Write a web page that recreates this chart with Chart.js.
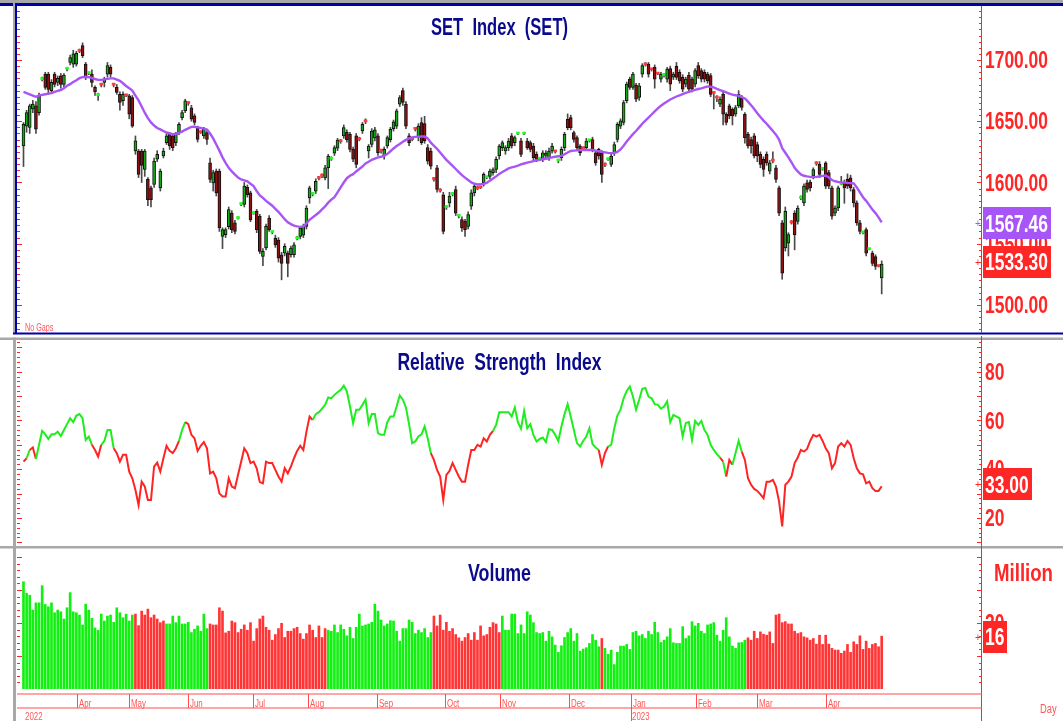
<!DOCTYPE html>
<html><head><meta charset="utf-8">
<script src="https://cdn.jsdelivr.net/npm/chart.js@4.4.0/dist/chart.umd.min.js"></script>
<style>
html,body{margin:0;padding:0;background:#fff;}
#wrap{position:relative;width:1063px;height:721px;overflow:hidden;background:#fff;}
canvas{position:absolute;left:0;}
</style></head><body>
<div id="wrap">
<canvas id="cPrice" width="1063" height="336" style="top:0px"></canvas>
<canvas id="cRsi" width="1063" height="210" style="top:336px"></canvas>
<canvas id="cVol" width="1063" height="175" style="top:546px"></canvas>
</div>
<script>
// ---------------- DATA ----------------
const priceOpen = [
1629.8,1646,1645,1660,1662.5,1657,1684,1688.5,1688.5,1675,
1688.5,1681.7,1687,1680,1692.5,1698,1696.7,1696.7,1707.5,1711.7,
1696.7,1689,1688.5,1677.6,1671,1680,1681.7,1688.5,1694,1680,
1677.6,1672,1666.7,1671,1670.8,1669.4,1625.7,1625.7,1625.7,1610.6,
1602.5,1595.6,1598.4,1619,1595.6,1621.6,1632.5,1639.3,1638,1632.5,
1640.7,1653,1658.5,1665,1661,1654.4,1644.8,1641,1638,1640.7,
1616,1599.7,1609.3,1609.3,1556,1557.4,1564,1575,1567,1570.5,
1582,1582,1596,1591.5,1574.5,1576.5,1572.4,1539.6,1546.5,1571,
1559.2,1554.6,1553,1541,1542.3,1542.3,1541,1541,1554,1556,
1557,1564.2,1587.4,1590.3,1593,1603.8,1605.6,1603.8,1612,1619,
1624,1628,1633.6,1638,1641,1639.3,1627,1638,1635.4,1642,
1650,1625.7,1631,1636.6,1638,1626,1621.6,1629.8,1635,1644,
1646,1664,1675,1664,1638,1635.4,1643.8,1636.6,1649,1648,
1628.4,1625.7,1603,1612,1593.5,1590,1579.5,1583.3,1590.3,1594.3,
1572.5,1569.7,1568.3,1564.2,1580.6,1591.5,1595.2,1596,1599.7,1604,
1605,1608,1610.6,1621.6,1628.4,1625.7,1628.4,1638,1632.5,1639.6,
1634,1639.6,1633.9,1632.5,1629.8,1623,1619,1619,1622,1620.2,
1625.7,1625.4,1617.6,1620.2,1628.4,1651.6,1653,1640.7,1636.6,1629.8,
1628,1628.4,1634,1635,1624.3,1627,1624.3,1614.6,1618.6,1614.8,
1624.3,1635.2,1646,1649,1666.7,1684.4,1677.6,1679.5,1669.4,1688.5,
1696.4,1696.7,1692.4,1694,1688.9,1684.4,1687.3,1684.4,1693,1686,
1694.8,1690,1685.8,1680.3,1687.7,1684.4,1680.3,1695.4,1691.3,1690,
1688.5,1687.2,1673.1,1669.3,1664,1672,1655.7,1662.6,1659.8,1655.7,
1662.6,1669.4,1655.7,1639.3,1635,1638,1631,1623,1619,1623,
1609.3,1617.9,1612,1595.6,1567,1546.5,1550.5,1567.4,1575,1568.3,
1587,1583.3,1599.7,1600.3,1605.2,1615.7,1614.8,1610.8,1616,1608,
1595.6,1575,1579.2,1598.6,1599.7,1602.5,1603.8,1594.3,1583.3,1567,
1558.9,1561.5,1545.2,1542.3,1539.6,1531.8,1522
];
const priceHigh = [
1649,1659,1664,1667,1666,1673,1686,1690,1690,1684,
1690,1687,1689,1689,1694,1704,1708,1707,1709,1714,
1698,1690,1692,1679,1673,1681,1686,1698,1696,1681,
1680,1674,1674,1672,1672,1671,1638,1627,1627,1627,
1604,1597,1620,1626,1611,1628,1640,1641,1640,1641,
1649,1659,1668,1666,1663,1656,1646,1642,1645,1642,
1620,1610,1611,1611,1563,1563,1580,1577,1569,1572,
1583,1600,1598,1593,1576,1578,1574,1546,1566,1573,
1560,1557,1555,1543,1550,1544,1548,1551,1556,1564,
1566,1581,1597,1592,1603,1605,1607,1614,1623,1621,
1630,1636,1635,1647,1643,1641,1629,1640,1637,1649,
1652,1631,1644,1645,1640,1627,1629,1638,1645,1651,
1660,1671,1677,1666,1640,1637,1645,1648,1653,1654,
1631,1628,1604,1614,1595,1592,1581,1592,1592,1597,
1574,1572,1570,1576,1594,1599,1597,1597,1608,1605,
1611,1612,1621,1631,1634,1630,1636,1640,1638,1641,
1636,1641,1636,1634,1632,1625,1620,1626,1626,1628,
1632,1626,1619,1629,1641,1656,1655,1642,1638,1631,
1629,1636,1635,1637,1626,1628,1626,1616,1620,1623,
1633,1649,1652,1667,1682,1686,1690,1681,1681,1697,
1698,1698,1693,1696,1690,1690,1689,1694,1695,1690,
1698,1692,1688,1686,1690,1686,1693,1698,1693,1692,
1690,1689,1674,1671,1670,1674,1657,1664,1661,1663,
1675,1671,1657,1641,1637,1640,1633,1625,1621,1625,
1618,1625,1614,1597,1569,1580,1559,1569,1577,1581,
1589,1599,1602,1602,1612,1617,1617,1612,1617,1610,
1597,1581,1597,1605,1602,1607,1606,1596,1585,1569,
1560,1563,1546,1544,1541,1532,1536
];
const priceLow = [
1613,1641,1640,1657,1640,1655,1683,1676,1672,1673,
1678,1679,1677,1678,1691,1696,1694,1695,1706,1702,
1684,1688,1678,1671,1667,1678,1678,1686,1686,1678,
1672,1659,1663,1670,1652,1645,1623,1604,1600,1605,
1581,1580,1596,1617,1593,1620,1631,1627,1626,1630,
1639,1651,1657,1663,1650,1647,1633,1640,1636,1631,
1600,1593,1589,1560,1546,1555,1562,1559,1558,1570,
1581,1580,1588,1568,1574,1559,1542,1532,1545,1560,
1558,1547,1535,1520.5,1540,1523,1539,1539,1553,1554,
1555,1562,1583,1589,1591,1602,1604,1602,1595,1618,
1622,1626,1632,1636,1633,1625,1617,1612,1634,1640,
1648,1620,1629,1634,1622,1624,1619,1628,1633,1642,
1644,1662,1663,1644,1630,1634,1642,1634,1631,1632,
1615,1611,1601,1592,1592,1558,1578,1580,1589,1573,
1571,1560,1556,1562,1578,1589,1594,1595,1597,1603,
1603,1606,1608,1619,1626,1623,1626,1628,1630,1639,
1621,1639,1627,1625,1618,1617,1618,1617,1620,1618,
1624,1624,1616,1618,1626,1643,1643,1633,1626,1622,
1626,1626,1633,1625,1614,1619,1600,1613,1618,1613,
1622,1633,1644,1647,1665,1676,1676,1666,1667,1686,
1695,1686,1691,1677,1688,1682,1686,1682,1675,1684,
1684,1681,1674,1678,1674,1674,1678,1685,1682,1682,
1681,1670,1660,1666,1662,1647,1647,1652,1647,1654,
1661,1659,1632,1628,1624,1620,1617,1612,1605,1614,
1607,1616,1600,1573,1521,1544,1540,1566,1545,1566,
1586,1581,1592,1593,1603,1614,1604,1610,1595,1595,
1570,1573,1577,1598,1583,1595,1593,1580,1565,1558,
1558,1540,1545,1532,1529,1531,1509
];
const priceClose = [
1647.5,1657,1662.5,1664,1643.5,1671,1684.5,1677.6,1676,1681.7,
1680,1685,1680,1687.7,1693,1702,1705,1705.5,1707,1703.5,
1685.8,1689.3,1681.7,1674,1671.3,1679.5,1684.4,1695.4,1688.5,1679.5,
1673.5,1665.3,1672,1670.8,1655.7,1646,1634,1606.6,1614,1625.7,
1586,1586,1617.5,1623,1609.3,1625.7,1638,1629.8,1628.4,1639.3,
1647.5,1657,1666.7,1664.5,1651.6,1649,1635.2,1640.7,1643.4,1635.2,
1602.5,1608,1591.5,1562.8,1561.5,1561.5,1577.9,1561.5,1560,1571,
1582.5,1597,1590,1569.7,1575,1561.5,1543.7,1543.7,1564.2,1561.5,
1559.6,1549,1538.2,1534,1547.8,1534,1546.5,1549,1554.6,1562.8,
1564,1579.2,1595.6,1590.7,1601,1603.3,1605.2,1612,1621.6,1619.4,
1628.4,1634.7,1633.3,1644.8,1635,1627,1619,1614.8,1635,1647.5,
1649.5,1629.8,1642,1642.9,1624.3,1625.7,1627,1636.6,1643.4,1649.5,
1658.5,1669.4,1665.3,1646,1632.5,1635,1643.4,1646,1632.5,1634,
1617.5,1613.4,1602.5,1594.3,1593,1560,1580,1588.8,1590.7,1575,
1573,1562.8,1561.5,1573.8,1591.5,1597,1594.8,1595.6,1606.6,1604.4,
1609.3,1610.6,1619,1629.8,1632.5,1628.4,1633.9,1629.8,1636.6,1640,
1623,1640,1628.4,1627,1620.2,1618.9,1619.4,1624.3,1624,1625.7,
1629.8,1625,1618,1627,1639.3,1644.8,1644.8,1635.2,1628.4,1624.3,
1627.6,1633.9,1634.4,1627,1616,1621.6,1606.6,1614.2,1619,1621.6,
1631,1647.5,1650.3,1665.3,1680.3,1677.6,1688.5,1668,1679,1695.4,
1696,1688.5,1692,1684.4,1688.5,1688.5,1687.7,1692.6,1680.3,1688.5,
1685.8,1683,1676.2,1684.4,1676.2,1676.2,1691.3,1687.2,1684.4,1684.4,
1683,1672,1672.7,1668.9,1668,1655.7,1649,1654.4,1654.4,1661.2,
1672,1661.2,1636.6,1629.8,1629.8,1621.6,1621.6,1614.8,1610.6,1616,
1616,1617.5,1602.5,1575,1526,1576.5,1557.4,1567,1557.4,1579.2,
1587.4,1597,1594.3,1595.6,1610.6,1615.3,1606.6,1611.2,1597,1597,
1572.4,1579.2,1595.6,1599,1595.6,1597,1595.6,1583.3,1567,1560.1,
1559.3,1542.3,1545.6,1534,1531.4,1531.4,1533.3
];
const maValues = [
1674,1673,1672,1671,1670,1671,1671.5,1672,1672.5,1673,
1674,1674.8,1675.5,1677,1679,1680.3,1682,1683.5,1685.2,1686,
1686.3,1686,1685.3,1684.5,1683.8,1683.8,1684.2,1684.6,1685,1685,
1684,1683,1681,1678.8,1677,1675,1671,1667,1662,1657,
1652.5,1649,1646.5,1644.5,1643.4,1642,1640.8,1640,1639.4,1639.8,
1640.5,1641.5,1643,1644.2,1645.4,1645.5,1645,1644.5,1644,1643.2,
1640,1636,1631,1626,1620.5,1616,1612,1609,1606.5,1604,
1602.5,1601.8,1601,1599,1597,1593,1589.5,1587.5,1585,1583,
1581,1578.5,1576,1573,1570,1567.5,1566,1564.8,1564.2,1563.8,
1564.2,1566.5,1569.5,1571.5,1573.5,1575.5,1578,1580.5,1583.5,1586,
1588,1592,1596,1600,1603.5,1605.5,1606.8,1609,1611,1613,
1615.5,1617,1618.5,1619.5,1620.5,1621,1622,1623.2,1625.5,1627.8,
1629.8,1631.5,1633.2,1634.8,1636,1636.8,1637.2,1637.4,1637.5,1637.5,
1636,1632.5,1630,1627.5,1624.5,1621.5,1618.5,1616,1613.5,1611,
1608.5,1606,1604,1602,1600,1599,1598.4,1598.5,1599,1599.7,
1601.5,1603.2,1605,1607,1608.5,1610,1611.5,1612.3,1613,1613.8,
1614.8,1615.5,1616.2,1616.8,1617.5,1618,1618.5,1619,1619.4,1620,
1620.5,1621,1621.4,1621.6,1623,1624.5,1625.7,1626,1626.2,1626.4,
1626.5,1626.5,1626.5,1626.5,1626,1625.5,1625,1624.6,1624.2,1624,
1624,1625,1627,1630,1633.5,1636.5,1639.5,1642,1645,1648,
1650.5,1653,1655.5,1658,1660.5,1662.6,1664.5,1666.2,1667.8,1669,
1670.2,1671.2,1672.2,1673.2,1674,1674.8,1675.6,1676.3,1676.8,1677.6,
1678.4,1678.2,1677.6,1676.5,1675.5,1674.5,1673.5,1672.5,1671.8,1671.2,
1670.8,1669.8,1668.6,1666,1663,1660,1656.5,1653.5,1650.5,1648,
1645,1642,1639,1635,1628,1624.3,1620.5,1616.5,1612,1609,
1606.6,1605.5,1605,1604.6,1604.4,1604.6,1605,1605.4,1605.7,1604,
1602,1601,1600.5,1600.2,1600,1599.7,1599.5,1599.3,1596,1592,
1588,1585,1581.5,1578,1575,1571.5,1567.46
];
const rsiValues = [
43.1,44.5,47.9,48.9,44.2,50,55.7,54.3,52.4,54.3,
54.3,55.4,53.6,56.1,58.5,60.9,59.3,62,62.6,60.9,
52,53.4,50,47.9,45.2,50,51.6,56.1,56.1,48.6,
46.6,43.1,45.9,45.9,39,36.3,31.5,25.3,34.9,32.9,
27.4,27.4,41.1,42.7,39,44.5,49.6,47.5,46.6,48.6,
51.6,56.1,59.3,58.5,54.1,52.7,47.5,49.6,51.1,48.6,
38.3,39,36.3,30.1,28.8,28.8,36.3,32.9,32.2,37.7,
43.1,48.6,46.6,42.5,43.1,40.4,34.7,34.2,43.1,42.5,
42.5,39.7,37,34.9,40.4,38.3,41.1,44.5,47.5,49.6,
47.9,55.4,61.6,60.2,62.6,63.4,64.8,66.4,69.4,69.1,
70.5,71.6,72.6,74.3,71.9,65.7,58.9,64.4,64.4,66.4,
68.5,58.9,62.6,62.6,54.8,54.1,54.1,59.3,61.6,61.6,
65.7,70.2,68.5,65.3,58.5,50.7,51.4,53.4,54.3,57.5,
52.7,46.6,43.8,39.7,37,27.4,37.7,39.3,42.5,39.7,
37,34.9,34.9,41.8,47.9,47.9,50,49.3,52.7,51.4,
54.1,55.7,58.2,63.4,63.4,63.4,63.4,61.6,65.3,59.3,
56.6,63.9,56.8,58.5,54.1,51.4,52.4,53,51.1,56.4,
56.1,54.1,51.6,57.5,62.6,66.7,61.6,56.1,50.7,49.3,
51.6,53.4,56.8,50.3,48.9,47.9,41.8,46.6,49.3,50,
56.8,62,64.4,69.1,72.1,73.9,69.8,64.4,68.5,73,
73.3,69.8,69.1,66.7,66.4,64.8,65.7,67.8,59.3,62.3,
61.6,60.9,53.4,58.9,59.3,52,59.8,58.2,59.8,56.1,
54.1,50,47.9,46.2,44.8,43.1,37,43.8,41.8,46.6,
51.6,47.2,43.8,36.3,33.6,31.9,31.1,29.7,28.1,34.9,
34.9,35.6,32.9,26.7,16.5,33.6,34.9,37,42.5,44.8,
47.9,47.2,48.3,51.6,54.1,53.4,54.1,51.6,48.6,46.6,
40.4,42.5,49.3,50.7,49.3,51.6,50,44.5,40.4,38.3,
37.9,34.2,34.9,32.2,31.1,31.1,33
];
const volumeValues = [
32.5,29,28.4,23.9,26.1,26.1,31.3,25.6,24.9,26.1,
23.1,23.9,23.4,21.2,24.6,29.2,23.4,23.1,22.4,19.4,
25.7,23.9,21.4,18.5,17.8,22.7,20.6,22.1,22.4,20.2,
24.6,23.1,21.6,22.7,20.6,22.4,22.7,19.2,23.6,22.4,
24.2,21.6,22.4,21.2,20.1,20.6,19.7,19.7,22.1,20.1,
22.1,19.7,19.7,20.2,17.1,18.1,19.1,17.5,22.7,18.3,
19.7,19.4,19.4,24.6,23.6,17,17.5,20.6,20.1,17.1,
18.1,19.4,17.8,20.1,14.5,18.3,21.2,22.1,18.7,17.8,
14.8,16.5,18.3,19.9,15.6,17.5,17.5,18.3,18.7,16.8,
15.1,16.8,19.4,17.8,15.6,19.1,15.6,18.3,17.8,17.5,
19.4,17.1,19.4,18.1,16.1,18.7,15.3,18.7,22.7,19.1,
19.4,19.7,20.2,25.7,23.6,20.9,19.1,19.7,20.7,20.6,
17.5,14.5,18.3,18.3,20.9,20.2,16.8,17.8,17.1,18.3,
15.6,17.1,22.1,19.1,22.4,17.8,20.2,17.5,18.3,16.5,
15.5,14.5,15.6,16.8,14.8,17.1,14.8,19.1,16.1,16.5,
18.7,20.1,19.7,17.1,22.1,17.8,17.8,22.7,22.7,16.8,
19.4,16.8,23.4,22.4,20.1,17.1,16.8,17.1,14.5,17.5,
15.8,13.3,11.1,13.1,15.6,17.1,18.3,14.5,16.8,11.5,
12.1,12.5,13.8,16.5,14.8,12.8,15.3,12.3,10.5,11.8,
7.4,11.1,13,13,13.5,12,17.1,17.5,16.1,16.5,
15.3,17.5,16.5,20.2,17.1,14.1,14.8,15.8,18.3,14,
13.8,13.8,18.9,15.3,16.1,20.4,19.1,19.9,17.5,16.8,
19.4,19.7,20.1,16.3,14.5,17.8,21.6,15.8,13,12.3,
14,14.1,14.8,15.5,14.8,17.5,15.3,17.3,16.6,16.3,
17.3,13.8,22.4,22.7,20.1,20.4,19.7,19.7,17.5,16.8,
17.1,15.8,15.5,14.8,15.3,13.6,16.3,13.5,16.3,13.6,
12.3,11.8,11.8,10.8,11.5,13.5,11.1,14.3,13.5,16.1,
12,14.5,12.3,13.5,13.8,12.8,16
];
const volumeUpRanges = [[0,35],[46,59],[98,131],[154,185],[187,232]];
const rsiUpRanges = [[1,2],[4,22],[25,29],[50,52],[93,131],[151,185],[188,224],[225,226],[228,231]];
const monthLabels = ['Apr','May','Jun','Jul','Aug','Sep','Oct','Nov','Dec','Jan','Feb','Mar','Apr'];
const monthPositions = [17.1,34,53,73.9,91.6,113.8,135.7,153.4,175.5,195.3,216.2,235.9,258];
const yearLabels = ['2022','2023'];
const yearPositions = [0.5,195.3];
const priceTicks = [1500,1550,1600,1650,1700];
const rsiTicks = [20,40,60,80];
const volumeTicks = [20];

// ---------------- STYLE HELPERS ----------------
const FONT = "'Liberation Sans', Arial, 'DejaVu Sans', sans-serif";
const AXIS_RED = '#FF2626';
const LIGHT_RED = '#FF5555';
const NAVY = '#0A0A8C';
const PANEL_NAVY = '#0000A8';
const PANEL_GRAY = '#A8A8A8';
const MA_PURPLE = '#A855F7';
const GREEN_BODY = '#17A817';
const RED_BODY = '#8E1010';
const DOJI_GREEN = '#22FF22';
const DOJI_RED = '#FF3B3B';
const RSI_GREEN = '#1EEE1E';
const RSI_RED = '#FF2424';
const VOL_GREEN = '#11F011';
const VOL_RED = '#FF3535';
const N = priceClose.length;
const X_MIN = -2.09, X_MAX = 308.26;
const CAP = 0.716;

function inRanges(ranges, a, b) {
  return ranges.some(r => a >= r[0] && b <= r[1]);
}
// draws text whose capital letters are vertically centred on y
function drawText(ctx, text, x, y, opt) {
  ctx.save();
  ctx.font = (opt.bold ? 'bold ' : '') + opt.size + 'px ' + FONT;
  const mw = ctx.measureText(text).width;
  const f = opt.width ? opt.width / mw : (opt.factor || 0.72);
  const w = mw * f;
  const x0 = opt.align === 'center' ? x - w / 2 : (opt.align === 'right' ? x - w : x);
  ctx.translate(x0, y + opt.size * CAP / 2);
  ctx.scale(f, 1);
  ctx.fillStyle = opt.color;
  ctx.textAlign = 'left';
  ctx.textBaseline = 'alphabetic';
  ctx.fillText(text, 0, 0);
  ctx.restore();
  return w;
}
function labelFactor(ctx) {
  ctx.save();
  ctx.font = 'bold 23px ' + FONT;
  const f = 63 / ctx.measureText('1700.00').width;
  ctx.restore();
  return f;
}
function axisTicks(ctx, scale, from, to, step, major, top, bottom) {
  ctx.save();
  ctx.strokeStyle = AXIS_RED; ctx.lineWidth = 1;
  ctx.beginPath();
  for (let v = from; v <= to + 1e-9; v += step) {
    const yy = Math.round(scale.getPixelForValue(v)) + 0.5;
    if (yy < top || yy > bottom) continue;
    const isMajor = Math.abs(v / major - Math.round(v / major)) < 1e-6;
    const len = isMajor ? 5 : 3;
    ctx.moveTo(982 - len, yy); ctx.lineTo(982, yy);
    ctx.moveTo(17, yy); ctx.lineTo(17 + len, yy);
  }
  ctx.stroke();
  ctx.restore();
}
function valueBox(ctx, text, yCenter, color, f) {
  ctx.save();
  ctx.font = 'bold 23px ' + FONT;
  const w = ctx.measureText(text).width * f;
  ctx.fillStyle = color;
  ctx.fillRect(983, Math.round(yCenter - 16), Math.round(w + 5), 32);
  ctx.restore();
  drawText(ctx, text, 985, yCenter, {size: 23, bold: true, color: '#FFFFFF', factor: f});
  drawText(ctx, '+', 975, yCenter, {size: 10, bold: false, color: color, factor: 1});
}
function drawTitle(ctx, text, y, width) {
  drawText(ctx, text, 499.5, y, {size: 24, bold: true, color: NAVY, align: 'center', width: width});
}
function rightLine(ctx, top, bottom) {
  ctx.save(); ctx.fillStyle = AXIS_RED; ctx.fillRect(981, top, 1, bottom - top); ctx.restore();
}

const baseOptions = (padTop, padBottom, yMin, yMax) => ({
  responsive: false, animation: false, devicePixelRatio: 1, events: [],
  layout: {padding: {left: 17, right: 81, top: padTop, bottom: padBottom}},
  plugins: {legend: {display: false}, tooltip: {enabled: false}, title: {display: false}},
  scales: {
    x: {type: 'linear', min: X_MIN, max: X_MAX, display: false, offset: false, grid: {display: false}},
    y: {type: 'linear', min: yMin, max: yMax, display: false, grid: {display: false}}
  }
});

// ---------------- PRICE PANEL ----------------
const isDoji = i => Math.abs(priceClose[i] - priceOpen[i]) < 1;
const bodyData = priceClose.map((c, i) => ({x: i, y: [priceOpen[i], c]}));
const wickData = priceClose.map((c, i) => ({x: i, y: [priceLow[i], priceHigh[i]]}));
const maData = maValues.map((v, i) => ({x: i, y: v}));

const pricePanel = {
  id: 'pricePanel',
  beforeDraw(chart) {
    const ctx = chart.ctx, W = chart.width, H = chart.height;
    ctx.save();
    ctx.fillStyle = '#FFFFFF'; ctx.fillRect(0, 0, W, H);
    ctx.fillStyle = PANEL_GRAY; ctx.fillRect(0, 0, W, 3);
    ctx.fillStyle = PANEL_NAVY; ctx.fillRect(0, 3, W, 3);
    ctx.fillStyle = PANEL_GRAY; ctx.fillRect(13, 3, 2, 331);
    ctx.fillStyle = PANEL_NAVY; ctx.fillRect(15, 3, 2, 331);
    ctx.fillRect(13, 332.5, W - 13, 2);
    ctx.restore();
  },
  afterDraw(chart) {
    const ctx = chart.ctx, y = chart.scales.y;
    const f = labelFactor(ctx);
    rightLine(ctx, 6, 333);
    axisTicks(ctx, y, 1480, 1740, 5, 50, 7, 331);
    priceTicks.forEach(v => drawText(ctx, v.toFixed(2), 985, y.getPixelForValue(v), {size: 23, bold: true, color: AXIS_RED, factor: f}));
    drawTitle(ctx, 'SET  Index  (SET)', 26, 137);
    drawText(ctx, 'No Gaps', 25, 327.5, {size: 10, color: LIGHT_RED, factor: 0.72});
    valueBox(ctx, maValues[N - 1].toFixed(2), y.getPixelForValue(maValues[N - 1]) + 1, MA_PURPLE, f);
    valueBox(ctx, priceClose[N - 1].toFixed(2), y.getPixelForValue(priceClose[N - 1]) - 2, AXIS_RED, f);
  }
};

new Chart(document.getElementById('cPrice'), {
  type: 'bar',
  data: {
    datasets: [
      {type: 'line', data: maData, borderColor: MA_PURPLE, borderWidth: 2.4, pointRadius: 0, tension: 0, fill: false},
      {type: 'bar', data: bodyData, grouped: false, barThickness: 3, minBarLength: 2, borderSkipped: false,
        backgroundColor: c => { const i = c.dataIndex; const up = priceClose[i] >= priceOpen[i];
          return isDoji(i) ? (up ? DOJI_GREEN : DOJI_RED) : (up ? GREEN_BODY : RED_BODY); },
        borderColor: '#111111',
        borderWidth: c => isDoji(c.dataIndex) ? 0 : 1},
      {type: 'bar', data: wickData, grouped: false, barThickness: 1, backgroundColor: '#4A4A4A', borderWidth: 0}
    ]
  },
  options: baseOptions(6, 3, 1477.1, 1744.1),
  plugins: [pricePanel]
});

// ---------------- RSI PANEL ----------------
const rsiData = rsiValues.map((v, i) => ({x: i, y: v}));
const rsiPanel = {
  id: 'rsiPanel',
  beforeDraw(chart) {
    const ctx = chart.ctx, W = chart.width, H = chart.height;
    ctx.save();
    ctx.fillStyle = '#FFFFFF'; ctx.fillRect(0, 0, W, H);
    ctx.fillStyle = PANEL_GRAY; ctx.fillRect(0, 1.5, W, 2.5);
    ctx.fillRect(13, 1.5, 3, H);
    ctx.restore();
  },
  afterDraw(chart) {
    const ctx = chart.ctx, y = chart.scales.y;
    const f = labelFactor(ctx);
    rightLine(ctx, 0, chart.height);
    axisTicks(ctx, y, 10, 92, 2, 10, 5, 209);
    rsiTicks.forEach(v => drawText(ctx, String(v), 985, y.getPixelForValue(v), {size: 23, bold: true, color: AXIS_RED, factor: f}));
    drawTitle(ctx, 'Relative  Strength  Index', 25.7, 204);
    valueBox(ctx, rsiValues[N - 1].toFixed(2), y.getPixelForValue(rsiValues[N - 1]) - 2, AXIS_RED, f);
  }
};
new Chart(document.getElementById('cRsi'), {
  type: 'line',
  data: {datasets: [{data: rsiData, borderWidth: 2, pointRadius: 0, tension: 0, fill: false, borderColor: RSI_RED,
    segment: {borderColor: c => inRanges(rsiUpRanges, c.p0DataIndex, c.p1DataIndex) ? RSI_GREEN : RSI_RED}}]},
  options: baseOptions(4, 0, 8.5, 93),
  plugins: [rsiPanel]
});

// ---------------- VOLUME PANEL ----------------
const volData = volumeValues.map((v, i) => ({x: i, y: v}));
const volColors = volumeValues.map((v, i) => inRanges(volumeUpRanges, i, i) ? VOL_GREEN : VOL_RED);
const volPanel = {
  id: 'volPanel',
  beforeDraw(chart) {
    const ctx = chart.ctx, W = chart.width, H = chart.height;
    ctx.save();
    ctx.fillStyle = '#FFFFFF'; ctx.fillRect(0, 0, W, H);
    ctx.fillStyle = PANEL_GRAY; ctx.fillRect(0, 0, W, 2.5);
    ctx.fillRect(13, 0, 3, H);
    ctx.restore();
  },
  afterDraw(chart) {
    const ctx = chart.ctx, y = chart.scales.y, x = chart.scales.x;
    const f = labelFactor(ctx);
    rightLine(ctx, 0, chart.height);
    axisTicks(ctx, y, 0, 42, 2, 10, 6, 143);
    volumeTicks.forEach(v => drawText(ctx, String(v), 985, y.getPixelForValue(v), {size: 23, bold: true, color: AXIS_RED, factor: f}));
    drawTitle(ctx, 'Volume', 26.5, 63);
    drawText(ctx, 'Million', 994, 26.5, {size: 24, bold: true, color: AXIS_RED, width: 59});
    valueBox(ctx, String(Math.round(volumeValues[N - 1])), y.getPixelForValue(volumeValues[N - 1]) + 1, AXIS_RED, f);
    // time axis band
    ctx.save();
    ctx.fillStyle = '#FF4D4D';
    ctx.fillRect(17, 147.5, 965, 1);
    ctx.fillRect(17, 161.5, 965, 1);
    ctx.strokeStyle = '#FF4D4D'; ctx.lineWidth = 1;
    ctx.beginPath();
    monthPositions.forEach((p, k) => {
      const px = Math.round(x.getPixelForValue(p)) + 0.5;
      ctx.moveTo(px, 148); ctx.lineTo(px, monthLabels[k] === 'Jan' ? 175 : 162);
    });
    ctx.stroke();
    ctx.restore();
    monthPositions.forEach((p, k) => {
      drawText(ctx, monthLabels[k], Math.round(x.getPixelForValue(p)) + 2, 157, {size: 11, color: LIGHT_RED, factor: 0.72});
    });
    yearLabels.forEach((t, k) => {
      const px = k === 0 ? x.getPixelForValue(yearPositions[k]) : Math.round(x.getPixelForValue(yearPositions[k])) + 1;
      drawText(ctx, t, px, 170, {size: 11, color: LIGHT_RED, factor: 0.72});
    });
    drawText(ctx, 'Day', 1040, 162.3, {size: 13, color: LIGHT_RED, factor: 0.72});
  }
};
new Chart(document.getElementById('cVol'), {
  type: 'bar',
  data: {datasets: [{data: volData, barThickness: 2, backgroundColor: volColors, borderWidth: 0}]},
  options: baseOptions(4, 32, 0, 42.1),
  plugins: [volPanel]
});
</script>
</body></html>
